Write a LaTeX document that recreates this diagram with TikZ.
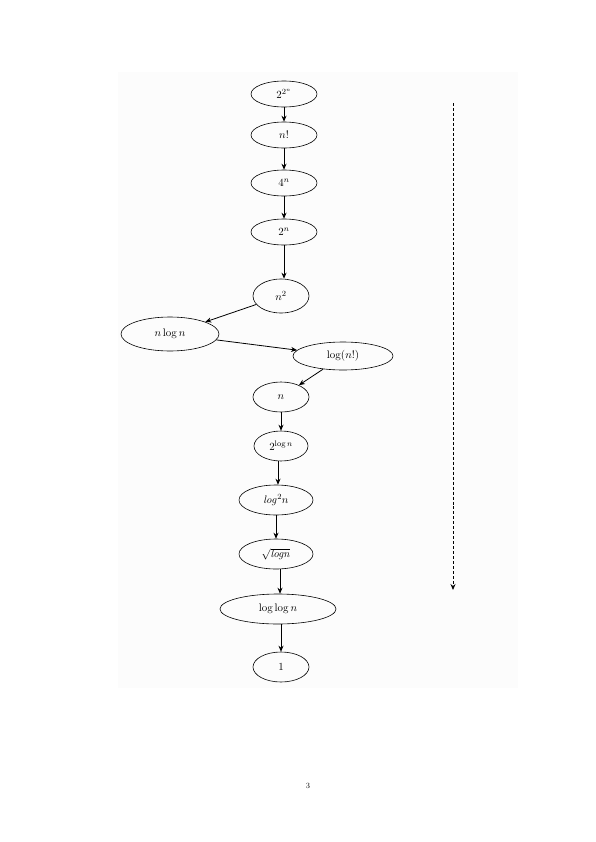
\documentclass[tikz,border=0pt]{standalone}
\usetikzlibrary{shapes.geometric, arrows.meta}
\tikzset{
    cls/.style={draw, ellipse, semithick, inner sep=0pt, minimum height=28bp, font=\fontsize{11}{13}\selectfont},
    flow/.style={-{Stealth[length=6bp, width=5bp]}, thick}
}
\begin{document}
\begin{tikzpicture}[x=1bp, y=-1bp]
    \useasboundingbox (0,0) rectangle (596,842);
    \fill[gray!2] (118,72) rectangle (518,688);
    % growth order, fastest at the top
    \node[cls, minimum width=66bp, minimum height=26bp] (tt) at (284,94) {$2^{2^n}$};
    \node[cls, minimum width=66bp, minimum height=26bp] (fac) at (284,135) {$n!$};
    \node[cls, minimum width=66bp, minimum height=26bp] (four) at (284,183) {$4^n$};
    \node[cls, minimum width=66bp, minimum height=26bp] (two) at (284,232) {$2^n$};
    \node[cls, minimum width=56bp, minimum height=34bp] (sq) at (281,296) {$n^2$};
    \node[cls, minimum width=98bp, minimum height=34bp] (nlog) at (170,334) {$n\log n$};
    \node[cls, minimum width=100bp] (logfac) at (343,356) {$\log(n!)$};
    \node[cls, minimum width=56bp, minimum height=30bp] (lin) at (281,397) {$n$};
    \node[cls, minimum width=54bp, minimum height=30bp] (tlog) at (281,446) {$2^{\log n}$};
    \node[cls, minimum width=74bp, minimum height=30bp] (logsq) at (276,500) {$\mathit{log}^2 n$};
    \node[cls, minimum width=74bp, minimum height=30bp] (rtlog) at (276,554) {$\sqrt{\mathit{logn}}$};
    \node[cls, minimum width=116bp, minimum height=30bp] (llog) at (278,609) {$\log\log n$};
    \node[cls, minimum width=56bp, minimum height=30bp] (one) at (281,667) {$1$};

    % straight down where the ellipses are nearly stacked
    \draw[flow] (tt) -- (fac);
    \draw[flow] (fac) -- (four);
    \draw[flow] (four) -- (two);
    \draw[flow] (two.south) -- (two.south |- sq.north);
    \draw[flow] (sq) -- (nlog);
    \draw[flow] (nlog) -- (logfac);
    \draw[flow] (logfac) -- (lin);
    \draw[flow] (lin) -- (tlog);
    \draw[flow] (tlog.south) ++(-3,0) coordinate (t1) -- (t1 |- logsq.north);
    \draw[flow] (logsq) -- (rtlog);
    \draw[flow] (rtlog.south) ++(4,0) coordinate (r1) -- (r1 |- llog.north);
    \draw[flow] (llog.south) ++(3,0) coordinate (l1) -- (l1 |- one.north);

    % direction of decreasing growth
    \coordinate (dtop) at (453,103);
    \coordinate (dbot) at (453,590);
    \draw[flow, densely dashed] (dtop) -- (dbot);

    \node[font=\footnotesize] (page) at (308,786) {3};
\end{tikzpicture}
\end{document}
